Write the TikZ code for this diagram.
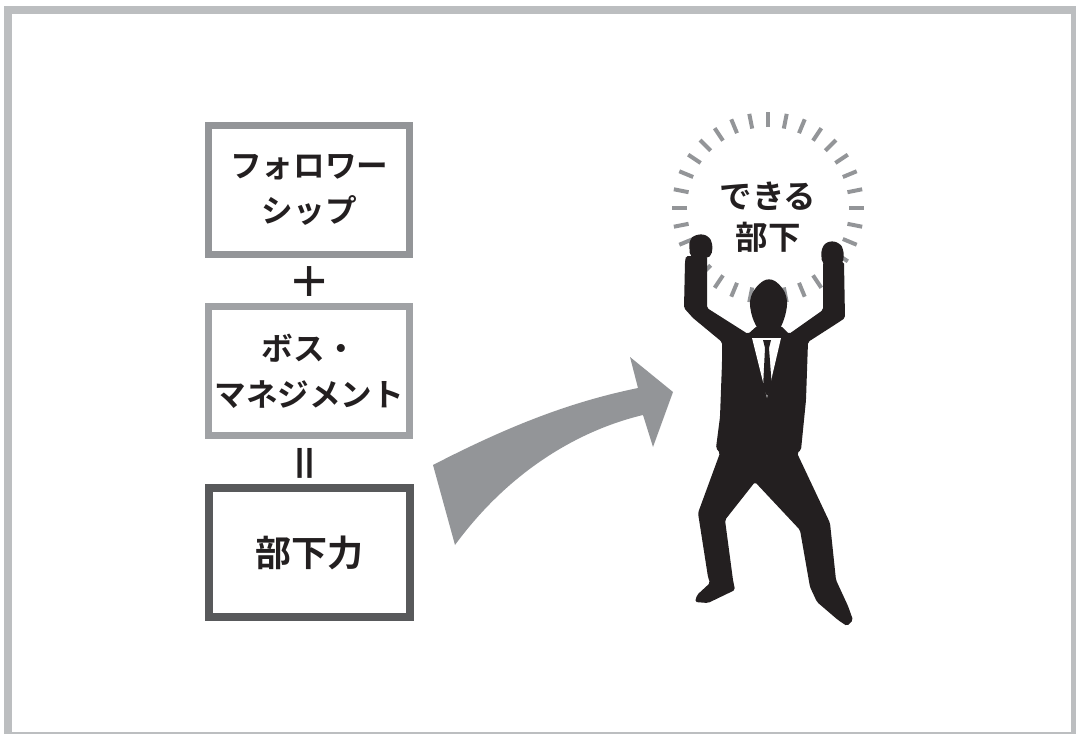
\documentclass[tikz,border=0pt]{standalone}
\usepackage{fontspec}
\newfontfamily\jpfont{Noto Sans CJK JP Bold}

\definecolor{rahmen}{HTML}{BCBEC0}
\definecolor{grau}{HTML}{939598}
\definecolor{hellgrau}{HTML}{A0A2A5}
\definecolor{dunkelgrau}{HTML}{58595B}
\definecolor{figur}{HTML}{231F20}

\tikzset{
    kasten/.style={draw=#1, line width=0.14cm, minimum width=4.03cm, minimum height=2.6cm,
        inner sep=0pt, align=center, text=figur, font=\jpfont\fontsize{18}{26}\selectfont},
    zeichen/.style={inner sep=0pt, text=figur, font=\jpfont\fontsize{24}{24}\selectfont},
    strahl/.style={draw=grau, line width=0.08cm}
}

\begin{document}
\begin{tikzpicture}[x=0.02cm, y=-0.02cm]
    \useasboundingbox (0,0) rectangle (1076,734);
    \draw[rahmen, line width=0.16cm] (8,10) rectangle (1075,736);

    % linke Spalte
    \node[kasten=grau] (folgen) at (309.25,190) {フォロワー\\シップ};
    \node[zeichen] (plus) at (310,282) {＋};
    \node[kasten=hellgrau] (boss) at (309.25,371) {ボス・\\マネジメント};
    \node[zeichen, rotate=90] (gleich) at (310,463) {＝};
    \node[kasten=dunkelgrau, line width=0.16cm, font=\jpfont\fontsize{20.5}{22}\selectfont] (kraft) at (309.25,552.5) {部下力};

    % Pfeil
    \fill[grau] (433,465) .. controls (520,420) and (580,400) .. (638,388) -- (630,357) -- (673,392)
        -- (653,447) -- (643,415) .. controls (580,430) and (510,470) .. (455,545) -- cycle;

    % Strahlen
    \coordinate (mitte) at (768,208);
    \foreach \w in {0,11.25,...,349}
        \draw[strahl] (mitte) ++(\w:81) -- ++(\w:15);
    \node[zeichen, align=center, font=\jpfont\fontsize{18.5}{23.3}\selectfont] (dekiru) at (768,217.5) {できる\\部下};

    % Figur
    \fill[figur, rounded corners=3pt] (690,258) -- (689,240) -- (696,234) -- (708,235) -- (713,244) -- (711,258) -- cycle;
    \fill[figur, rounded corners=3pt] (822,265) -- (821,249) -- (827,241) -- (839,242) -- (844,250) -- (843,265) -- cycle;
    \fill[figur, rounded corners=4pt] (769,277) -- (782,286) -- (788,300) -- (785,318) -- (778,333)
        -- (760,333) -- (752,318) -- (749,300) -- (756,286) -- cycle;
    \fill[figur, rounded corners=1pt] (686,256) -- (707,256) -- (707,308) -- (748,334) -- (757,326) -- (781,326)
        -- (789,334) -- (823,310) -- (823,262) -- (844,262) -- (845,318) -- (836,324) -- (808,342)
        -- (806,400) -- (801,450) -- (797,453) -- (830,523) -- (836,580) -- (848,606) -- (853,620)
        -- (847,626) -- (838,620) -- (817,602) -- (810,587) -- (800,530) -- (755,482) -- (725,520)
        -- (733,580) -- (735,590) -- (708,603) -- (695,602) -- (697,595) -- (710,583) -- (708,577)
        -- (698,513) -- (720,453) -- (716,448) -- (720,417) -- (722,363) -- (722,342) -- (693,318)
        -- (684,308) -- (685,262) -- cycle;
    \fill[white] (752,338) -- (781,338) -- (767,398) -- cycle;
    \fill[figur] (763,340) -- (771,340) -- (769,348) -- (772,388) -- (767,396) -- (763,388) -- (765,348) -- cycle;
\end{tikzpicture}
\end{document}
